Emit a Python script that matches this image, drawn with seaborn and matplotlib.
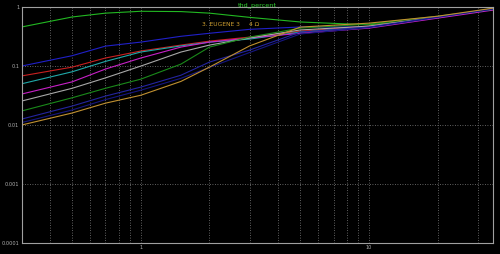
import matplotlib
matplotlib.use("Agg")
import matplotlib.pyplot as plt
import matplotlib.ticker as mticker
import numpy as np
import pandas as pd
import seaborn as sns

# ---- data ----
freq = [0.3, 0.5, 0.7, 1.0, 1.5, 2.0, 3.0, 5.0, 10.0, 20.0, 35.0]
s_green   = [0.46, 0.68, 0.79, 0.85, 0.84, 0.79, 0.67, 0.56, 0.50, 0.66, 0.95]
s_blue    = [0.100, 0.150, 0.218, 0.255, 0.32, 0.36, 0.42, 0.46, 0.46, 0.68, 0.92]
s_red     = [0.068, 0.096, 0.137, 0.18, 0.227, 0.265, 0.31, 0.39, 0.476, 0.68, 0.92]
s_cyan    = [0.050, 0.080, 0.120, 0.173, 0.22, 0.255, 0.287, 0.377, 0.458, 0.68, 0.92]
s_magenta = [0.0335, 0.054, 0.089, 0.137, 0.21, 0.255, 0.30, 0.36, 0.44, 0.65, 0.89]
s_gray    = [0.0255, 0.042, 0.063, 0.100, 0.173, 0.227, 0.30, 0.41, 0.476, 0.68, 0.92]
s_dgreen  = [0.0173, 0.029, 0.042, 0.060, 0.108, 0.21, 0.31, 0.44, 0.515, 0.70, 0.92]
s_dblue   = [0.0126, 0.021, 0.031, 0.044, 0.070, 0.117, 0.187, 0.377, 0.46, 0.68, 0.92]
s_navy    = [0.011, 0.018, 0.027, 0.039, 0.062, 0.095, 0.17, 0.35, 0.45, 0.67, 0.93]
s_orange  = [0.010, 0.016, 0.0235, 0.032, 0.055, 0.096, 0.22, 0.458, 0.535, 0.70, 0.96]

series = {
    "green": s_green, "blue": s_blue, "red": s_red, "cyan": s_cyan,
    "magenta": s_magenta, "gray": s_gray, "dgreen": s_dgreen,
    "dblue": s_dblue, "navy": s_navy, "orange": s_orange,
}
palette = {
    "green": "#22b822", "blue": "#2020c8", "red": "#c82020", "cyan": "#20a8a8",
    "magenta": "#c820c8", "gray": "#a8a8a8", "dgreen": "#1a8a1a",
    "dblue": "#2424a0", "navy": "#161680", "orange": "#c09030",
}

title = "thd_percent"
label1 = "3. EUGENE 3"
label2 = "4 Ω"

rows = []
for name, vals in series.items():
    for f, v in zip(freq, vals):
        rows.append({"freq": f, "thd": v, "series": name})
df = pd.DataFrame(rows)

sns.set_style("dark")
plt.rcParams["font.family"] = ["DejaVu Sans"]

fig = plt.figure(figsize=(5.0, 2.54), dpi=100, facecolor="black")
ax = fig.add_axes([0.043, 0.0433, 0.943, 0.9287])
ax.set_facecolor("black")

sns.lineplot(data=df, x="freq", y="thd", hue="series", palette=palette,
             hue_order=list(series.keys()), linewidth=0.8, legend=False,
             ax=ax, estimator=None, sort=True)

ax.set_xscale("log")
ax.set_yscale("log")
ax.set_xlim(0.3, 35)
ax.set_ylim(1e-4, 1)

ax.xaxis.set_major_locator(mticker.FixedLocator([1, 10]))
ax.xaxis.set_major_formatter(mticker.FixedFormatter(["1", "10"]))
ax.xaxis.set_minor_locator(mticker.LogLocator(base=10, subs=np.arange(2, 10)))
ax.xaxis.set_minor_formatter(mticker.NullFormatter())
ax.yaxis.set_major_locator(mticker.FixedLocator([1e-4, 1e-3, 1e-2, 1e-1, 1]))
ax.yaxis.set_major_formatter(mticker.FixedFormatter(["0.0001", "0.001", "0.01", "0.1", "1"]))
ax.yaxis.set_minor_locator(mticker.LogLocator(base=10, subs=np.arange(2, 10)))
ax.yaxis.set_minor_formatter(mticker.NullFormatter())

ax.grid(True, which="major", axis="both", color="#808080", linestyle=(0, (1, 2)), linewidth=0.6)
ax.grid(True, which="minor", axis="x", color="#808080", linestyle=(0, (1, 2)), linewidth=0.6)
ax.grid(False, which="minor", axis="y")

for sp in ax.spines.values():
    sp.set_color("#a0a0a0")
    sp.set_linewidth(0.8)
ax.tick_params(which="both", colors="#a0a0a0", labelcolor="#b0b0b0", labelsize=3.6,
               direction="out", pad=0.4)
ax.tick_params(which="major", length=1.2)
ax.tick_params(which="minor", length=0.9)
ax.set_xlabel("")
ax.set_ylabel("")

fig.text(0.514, 0.99, title, color="#30d030", fontsize=4.6, ha="center", va="top")
ax.text(0.382, 0.928, label1, transform=ax.transAxes, color="#d0a030", fontsize=4.3,
        ha="left", va="center")
ax.text(0.482, 0.928, label2, transform=ax.transAxes, color="#d0a030", fontsize=4.3,
        ha="left", va="center")

fig.savefig("out.png", dpi=100, facecolor="black")
